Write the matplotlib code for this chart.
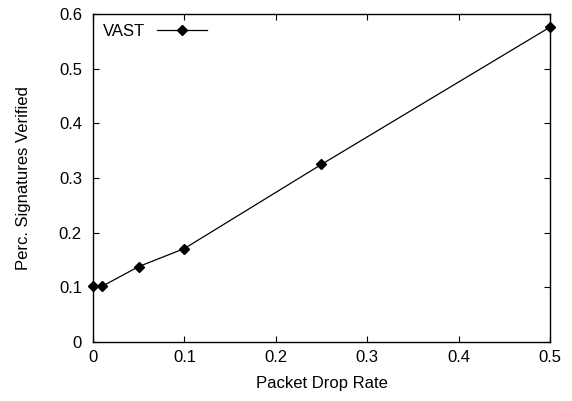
import matplotlib
matplotlib.use('Agg')
import matplotlib.pyplot as plt

plt.rcParams['font.family'] = ['Liberation Sans', 'DejaVu Sans']

drop_rate = [0.0, 0.01, 0.05, 0.1, 0.25, 0.5]
verified = [0.102, 0.102, 0.138, 0.171, 0.325, 0.576]

fig = plt.figure(figsize=(5.72, 4.01), dpi=100)
ax = fig.add_axes([0.1626, 0.1471, 0.7989, 0.8179])

ax.plot(drop_rate, verified, color='black', linewidth=0.9, marker='D',
        markersize=5.5, clip_on=False, zorder=3, label='VAST')

ax.set_xlim(0, 0.5)
ax.set_ylim(0, 0.6)
ax.set_xticks([0, 0.1, 0.2, 0.3, 0.4, 0.5])
ax.set_xticklabels(['0', '0.1', '0.2', '0.3', '0.4', '0.5'])
ax.set_yticks([0, 0.1, 0.2, 0.3, 0.4, 0.5, 0.6])
ax.set_yticklabels(['0', '0.1', '0.2', '0.3', '0.4', '0.5', '0.6'])
ax.tick_params(direction='in', length=4.5, width=0.8, top=True, right=True,
               labelsize=12)
ax.tick_params(axis='y', pad=8)
ax.tick_params(axis='x', pad=6)
for s in ax.spines.values():
    s.set_linewidth(1.0)

ax.set_xlabel('Packet Drop Rate', fontsize=12, labelpad=8)
ax.set_ylabel('Perc. Signatures Verified', fontsize=12, labelpad=20)

ax.legend(loc='upper left', frameon=False, markerfirst=False, fontsize=12,
          handlelength=3.0, borderaxespad=0.2, handletextpad=0.7)

fig.savefig('out.png', dpi=100)
